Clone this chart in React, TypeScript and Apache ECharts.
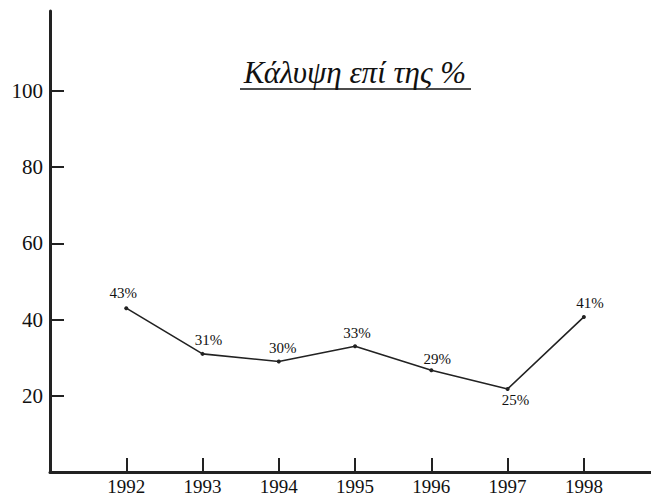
import React, { useEffect, useRef } from "react";
import * as echarts from "echarts";

const years = [1992, 1993, 1994, 1995, 1996, 1997, 1998];
const values = [43, 31, 29, 33, 26.7, 21.8, 40.7];
const pointLabels = ["43%", "31%", "30%", "33%", "29%", "25%", "41%"];
const yTicks = [20, 40, 60, 80, 100];
const titleText = "Κάλυψη επί της %";

export default function App() {
  const ref = useRef<HTMLDivElement>(null);
  useEffect(() => {
    const chart = echarts.init(ref.current!, null, { renderer: "svg" });
    const labelOffsets: Record<number, any> = {
      0: { position: "top", offset: [-3, -2] },
      1: { position: "top", offset: [6, 0] },
      2: { position: "top", offset: [4, 0] },
      3: { position: "top", offset: [2, 0] },
      4: { position: "top", offset: [6, 2] },
      5: { position: "bottom", offset: [8, -2] },
      6: { position: "top", offset: [6, 0] },
    };
    const data = years.map((y, i) => ({
      value: [y, values[i]],
      label: { ...labelOffsets[i] },
    }));
    chart.setOption({
      animation: false,
      backgroundColor: "#ffffff",
      grid: { left: 50, right: 0, top: 11, bottom: 25 },
      xAxis: {
        type: "value",
        min: 1991,
        max: 1998.88,
        interval: 1,
        axisLine: { show: true, onZero: false, lineStyle: { color: "#222", width: 3 } },
        axisTick: {
          show: true,
          inside: true,
          length: 14,
          customValues: years,
          lineStyle: { color: "#222", width: 2 },
        },
        axisLabel: {
          customValues: years,
          margin: 5,
          color: "#111",
          fontFamily: "Liberation Serif",
          fontSize: 19,
          formatter: (v: number) => String(v),
        },
        splitLine: { show: false },
      },
      yAxis: {
        type: "value",
        min: 0,
        max: 121,
        interval: 20,
        axisLine: { show: true, lineStyle: { color: "#222", width: 3 } },
        axisTick: {
          show: true,
          inside: true,
          length: 14,
          customValues: yTicks,
          lineStyle: { color: "#222", width: 2 },
        },
        axisLabel: {
          customValues: yTicks,
          margin: 7,
          color: "#111",
          fontFamily: "Liberation Serif",
          fontSize: 21,
        },
        splitLine: { show: false },
      },
      graphic: [
        {
          type: "text",
          style: {
            text: titleText,
            x: 355,
            y: 72,
            textAlign: "center",
            textVerticalAlign: "middle",
            font: 'italic 31px "Liberation Serif"',
            fill: "#111",
          },
        },
        {
          type: "line",
          shape: { x1: 240, y1: 89, x2: 471, y2: 89 },
          style: { stroke: "#111", lineWidth: 1.5 },
        },
      ],
      series: [
        {
          type: "line",
          data,
          symbol: "circle",
          symbolSize: 4,
          itemStyle: { color: "#222" },
          lineStyle: { color: "#222", width: 1.6 },
          label: {
            show: true,
            formatter: (p: any) => pointLabels[p.dataIndex],
            color: "#111",
            fontFamily: "Liberation Serif",
            fontSize: 15,
            distance: 4,
          },
        },
      ],
    });
    return () => chart.dispose();
  }, []);
  return (
    <div
      ref={ref}
      style={{ position: "fixed", left: 0, top: 0, width: 651, height: 497, background: "#fff" }}
    />
  );
}
